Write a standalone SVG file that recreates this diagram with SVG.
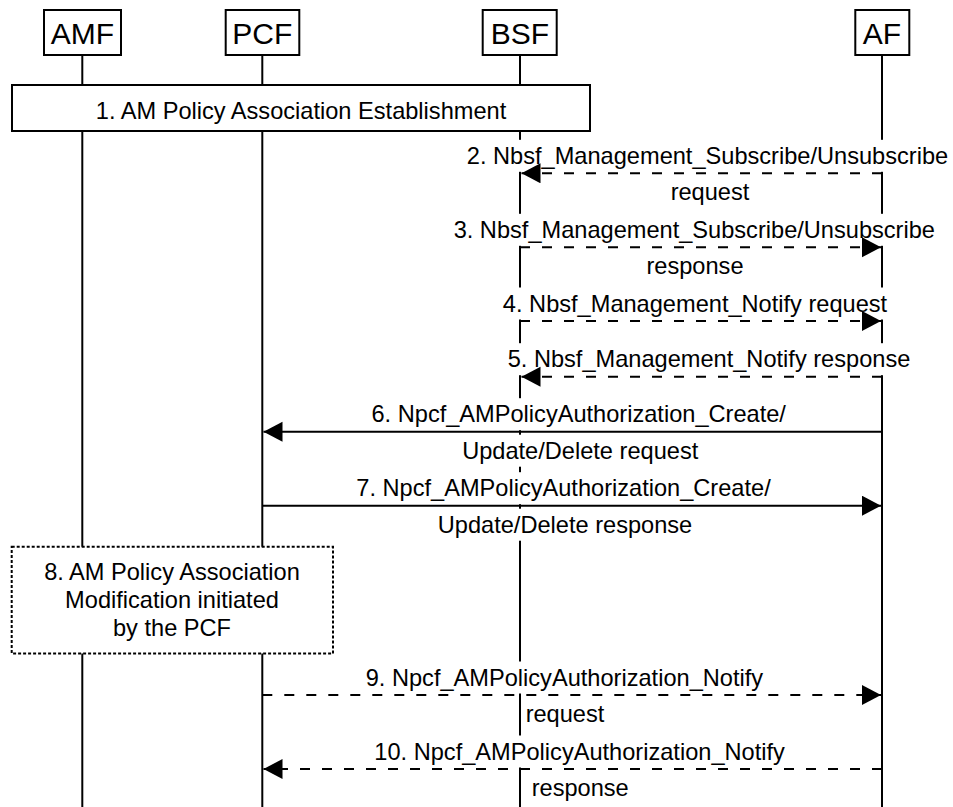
<svg xmlns="http://www.w3.org/2000/svg" width="953" height="807" viewBox="0 0 953 807">
<defs>
<style>
.box{fill:#fff;stroke:#000;stroke-width:2}
.dbox{fill:#fff;stroke:#000;stroke-width:2;stroke-dasharray:3 2}
.ll{stroke:#000;stroke-width:2;fill:none}
.msg{stroke:#000;stroke-width:2;fill:none;marker-end:url(#ah)}
.dash{stroke-dasharray:10 12}
.bg{fill:#fff;stroke:none}
text{font-family:"Liberation Sans",Arial,Helvetica,sans-serif;font-size:23.6px;fill:#000;text-anchor:middle}
.pt{font-size:30px}
</style>
<marker id="ah" markerUnits="userSpaceOnUse" markerWidth="20" markerHeight="21" refX="19" refY="10" orient="auto">
<path d="M0,0 L19,10 L0,20 z" fill="#000"/>
</marker>
</defs>
<rect width="953" height="807" fill="#fff"/>
<g id="AMF">
<line class="ll" x1="82.3" y1="55" x2="82.3" y2="807"/>
<rect class="box" x="44" y="10" width="77" height="45"/>
<text class="pt" x="82.3" y="44">AMF</text>
</g>
<g id="PCF">
<line class="ll" x1="262.3" y1="55" x2="262.3" y2="807"/>
<rect class="box" x="225.7" y="10" width="73.6" height="45"/>
<text class="pt" x="262.3" y="44">PCF</text>
</g>
<g id="BSF">
<line class="ll" x1="520" y1="55" x2="520" y2="807"/>
<rect class="box" x="482.7" y="10" width="74" height="45"/>
<text class="pt" x="520" y="44">BSF</text>
</g>
<g id="AF">
<line class="ll" x1="882" y1="55" x2="882" y2="807"/>
<rect class="box" x="855.3" y="10" width="54" height="45"/>
<text class="pt" x="882" y="44">AF</text>
</g>
<g id="step1">
<rect class="box" x="12" y="85" width="578" height="46"/>
<text x="301" y="118.5">1. AM Policy Association Establishment</text>
</g>
<g id="step8">
<rect class="dbox" x="11.7" y="546.7" width="321.3" height="106.8"/>
<text x="172" y="580">8. AM Policy Association</text>
<text x="172" y="608">Modification initiated</text>
<text x="172" y="636">by the PCF</text>
</g>
<g id="connectors">
<g id="labelbg">
<rect class="bg" x="465" y="139.8" width="485" height="32"/>
<rect class="bg" x="452" y="213.8" width="485" height="32"/>
<rect class="bg" x="501" y="287.5" width="388" height="32"/>
<rect class="bg" x="506" y="343.2" width="406" height="32"/>
<rect class="bg" x="370" y="398.2" width="418" height="32"/>
<rect class="bg" x="460" y="434.7" width="240" height="32"/>
<rect class="bg" x="354" y="472.2" width="418" height="32"/>
<rect class="bg" x="436" y="508.7" width="258" height="32"/>
<rect class="bg" x="364" y="661.5" width="401" height="32"/>
<rect class="bg" x="523" y="698" width="83" height="32"/>
<rect class="bg" x="372" y="735.5" width="415" height="32"/>
<rect class="bg" x="530" y="772" width="100" height="32"/>
</g>
<g id="m2">
<path class="msg dash" d="M882,173.3 H521.5"/>
<text x="707.5" y="163.8">2. Nbsf_Management_Subscribe/Unsubscribe</text>
<text x="710" y="200.3">request</text>
</g>
<g id="m3">
<path class="msg dash" d="M520,247.3 H881"/>
<text x="694.3" y="237.8">3. Nbsf_Management_Subscribe/Unsubscribe</text>
<text x="695" y="274.3">response</text>
</g>
<g id="m4">
<path class="msg dash" d="M520,321 H881"/>
<text x="695" y="311.5">4. Nbsf_Management_Notify request</text>
</g>
<g id="m5">
<path class="msg dash" d="M882,376.7 H521.5"/>
<text x="709" y="367.2">5. Nbsf_Management_Notify response</text>
</g>
<g id="m6">
<path class="msg" d="M882,431.7 H263.5"/>
<text x="578.7" y="422.2">6. Npcf_AMPolicyAuthorization_Create/</text>
<text x="580.2" y="458.7">Update/Delete request</text>
</g>
<g id="m7">
<path class="msg" d="M262.3,505.7 H881"/>
<text x="563.5" y="496.2">7. Npcf_AMPolicyAuthorization_Create/</text>
<text x="565" y="532.7">Update/Delete response</text>
</g>
<g id="m9">
<path class="msg dash" d="M262.3,695 H881"/>
<text x="564.4" y="685.5">9. Npcf_AMPolicyAuthorization_Notify</text>
<text x="565" y="722">request</text>
</g>
<g id="m10">
<path class="msg dash" d="M882,769 H263.5"/>
<text x="579.6" y="759.5">10. Npcf_AMPolicyAuthorization_Notify</text>
<text x="580.2" y="796">response</text>
</g>
</g>
</svg>
